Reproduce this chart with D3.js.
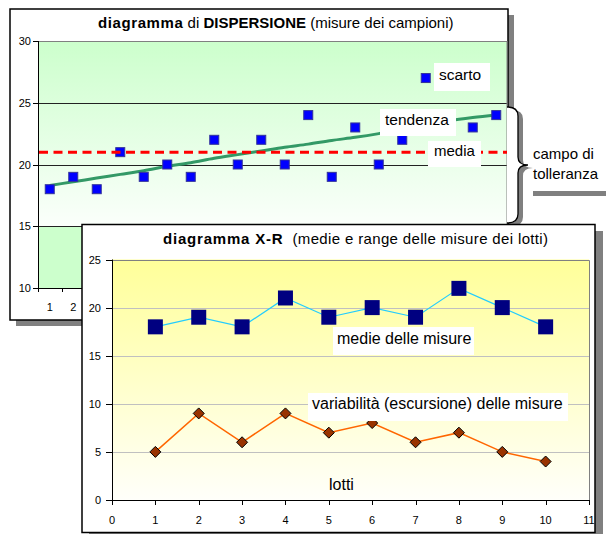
<!DOCTYPE html>
<html><head><meta charset="utf-8">
<script src="https://cdn.jsdelivr.net/npm/d3@7"></script>
<style>
html,body{margin:0;padding:0;background:#fff;}
svg{display:block;font-family:"Liberation Sans",Arial,sans-serif;}
</style></head><body>
<svg id="c" width="606" height="534"></svg>
<script>
// ---------- DATA ----------
const campioni = ["1","2","3","4","5","6","7","8","9","10","11","12","13","14","15","16","17","18","19","20"];
const misure = [18,19,18,21,19,20,19,22,20,22,20,24,19,23,20,22,27,23,23,24];
const tendenza = [18.3,18.6,18.9,19.2,19.5,19.85,20.15,20.5,20.8,21.1,21.4,21.65,21.95,22.2,22.5,22.85,23.2,23.55,23.8,24.0];
const mediaValore = 21;
const topYTicks = [10,15,20,25,30];

const lotti = [1,2,3,4,5,6,7,8,9,10];
const medie = [18,19,18,21,19,20,19,22,20,18];
const escursione = [5,9,6,9,7,8,6,7,5,4];
const bottomYTicks = [0,5,10,15,20,25];
const bottomXTicks = [0,1,2,3,4,5,6,7,8,9,10,11];

// ---------- SETUP ----------
const svg = d3.select("#c");
const defs = svg.append("defs");
const gG = defs.append("linearGradient").attr("id","gGreen").attr("x1",0).attr("y1",0).attr("x2",0).attr("y2",1);
gG.append("stop").attr("offset","0").attr("stop-color","#ccffcc");
gG.append("stop").attr("offset","1").attr("stop-color","#fbfffb");
const gY = defs.append("linearGradient").attr("id","gYellow").attr("x1",0).attr("y1",0).attr("x2",0).attr("y2",1);
gY.append("stop").attr("offset","0").attr("stop-color","#ffff99");
gY.append("stop").attr("offset","1").attr("stop-color","#fffffa");

// ---------- TOP CHART: diagramma di dispersione ----------
const xT = d3.scaleBand().domain(campioni).range([38,508]);
const yT = d3.scaleLinear().domain([10,30]).range([288,41]);
const bw = xT.bandwidth();
const cx = c => xT(c) + bw/2;
const BOTTOM_FRAME_LEFT = 82;

const topG = svg.append("g");
topG.append("rect").attr("x",16).attr("y",15).attr("width",498).attr("height",311).attr("fill","#808080");
topG.append("rect").attr("x",10).attr("y",9).attr("width",498).attr("height",311).attr("fill","#fff").attr("stroke","#000").attr("stroke-width",1.5);

topG.append("rect").attr("x",38).attr("y",yT(30)).attr("width",469).attr("height",yT(15)-yT(30)).attr("fill","url(#gGreen)");
topG.append("rect").attr("x",38).attr("y",yT(15)).attr("width",469).attr("height",yT(10)-yT(15)).attr("fill","#ccffcc");

// gridlines
topG.selectAll(".gt").data(topYTicks.filter(d=>d>10)).enter().append("line")
  .attr("x1",38).attr("x2",507).attr("y1",d=>Math.round(yT(d))+0.5).attr("y2",d=>Math.round(yT(d))+0.5)
  .attr("stroke",d=>d===30?"#808080":"#222").attr("stroke-width",1);
topG.append("line").attr("x1",507).attr("x2",507).attr("y1",yT(30)).attr("y2",yT(10)).attr("stroke","#808080");

// y axis
topG.append("line").attr("x1",38.5).attr("x2",38.5).attr("y1",yT(30)).attr("y2",yT(10)+0.5).attr("stroke","#000");
topG.selectAll(".yt").data(topYTicks).enter().append("line")
  .attr("x1",33).attr("x2",38).attr("y1",d=>Math.round(yT(d))+0.5).attr("y2",d=>Math.round(yT(d))+0.5).attr("stroke","#000");
topG.selectAll(".ytl").data(topYTicks).enter().append("text")
  .attr("x",31).attr("y",d=>yT(d)+4).attr("text-anchor","end").attr("font-size",11).text(d=>d);

// x axis (labels only where not hidden by the X-R chart)
topG.append("line").attr("x1",38).attr("x2",507).attr("y1",288.5).attr("y2",288.5).attr("stroke","#000");
topG.selectAll(".xt").data(campioni).enter().append("line")
  .attr("x1",d=>Math.round(xT(d))+0.5).attr("x2",d=>Math.round(xT(d))+0.5).attr("y1",288).attr("y2",292).attr("stroke","#000");
topG.selectAll(".xtl").data(campioni.filter(c=>cx(c)+4<BOTTOM_FRAME_LEFT)).enter().append("text")
  .attr("x",d=>cx(d)).attr("y",311).attr("text-anchor","middle").attr("font-size",11).text(d=>d);

// trend line
const lineT = d3.line().x((d,i)=>cx(campioni[i])).y(d=>yT(d)).curve(d3.curveMonotoneX);
topG.append("path").datum(tendenza).attr("d",lineT).attr("fill","none").attr("stroke","#339966").attr("stroke-width",3);

// markers
topG.selectAll(".m").data(misure).enter().append("rect")
  .attr("x",(d,i)=>cx(campioni[i])-4.5).attr("y",d=>yT(d)-4.5).attr("width",9).attr("height",9)
  .attr("fill","#0000ff").attr("stroke","#333399").attr("stroke-width",1);

// media dashed line
topG.append("line").attr("x1",39).attr("x2",507).attr("y1",yT(mediaValore)).attr("y2",yT(mediaValore))
  .attr("stroke","#ff0000").attr("stroke-width",3).attr("stroke-dasharray","9,5.5");

// title
const tt = topG.append("text").attr("x",98).attr("y",28).attr("font-size",15);
tt.append("tspan").attr("font-weight","bold").attr("letter-spacing",0.6).text("diagramma");
tt.append("tspan").text(" di ");
tt.append("tspan").attr("font-weight","bold").text("DISPERSIONE");
tt.append("tspan").text(" (misure dei campioni)");

// label boxes
function labelBox(g, x, y, w, h, tx, ty, txt, fs){
  g.append("rect").attr("x",x).attr("y",y).attr("width",w).attr("height",h).attr("fill","#fff");
  g.append("text").attr("x",tx).attr("y",ty).attr("font-size",fs).text(txt);
}
labelBox(topG, 434, 63, 56, 28, 439, 79.5, "scarto", 15.5);
labelBox(topG, 380, 109, 76, 27, 385, 124.5, "tendenza", 15.5);
labelBox(topG, 428, 141, 53, 26, 434, 155.5, "media", 15);

// brace + shadow
const braceFill = "M507,107 Q518,107 518,116 L518,157 Q518,165 528,165 Q518,165 518,173 L518,214 Q518,223 507,223 Z";
const braceLine = "M507,107 Q518,107 518,116 L518,157 Q518,165 528,165 Q518,165 518,173 L518,214 Q518,223 507,223";
svg.append("path").attr("d",braceFill).attr("transform","translate(5,3)").attr("fill","#808080");
svg.append("path").attr("d",braceFill).attr("fill","#fff");
svg.append("path").attr("d",braceLine).attr("fill","none").attr("stroke","#000").attr("stroke-width",1.3);

svg.append("text").attr("x",533).attr("y",158.5).attr("font-size",15).text("campo di");
svg.append("text").attr("x",533).attr("y",178.5).attr("font-size",15).text("tolleranza");
svg.append("rect").attr("x",533).attr("y",191).attr("width",73).attr("height",5).attr("fill","#808080");

// ---------- BOTTOM CHART: diagramma X-R ----------
const xB = d3.scaleLinear().domain([0,11]).range([112,589]);
const yB = d3.scaleLinear().domain([0,25]).range([500,259.5]);

const botG = svg.append("g");
botG.append("rect").attr("x",89).attr("y",231).attr("width",514).attr("height",310).attr("fill","#808080");
botG.append("rect").attr("x",BOTTOM_FRAME_LEFT).attr("y",224.5).attr("width",513).attr("height",308).attr("fill","#fff").attr("stroke","#000").attr("stroke-width",1.5);

botG.append("rect").attr("x",xB(0)).attr("y",yB(25)).attr("width",xB(11)-xB(0)).attr("height",yB(0)-yB(25)).attr("fill","url(#gYellow)");
botG.selectAll(".gb").data(bottomYTicks.filter(d=>d>0&&d<25)).enter().append("line")
  .attr("x1",xB(0)).attr("x2",xB(11)).attr("y1",d=>Math.round(yB(d))+0.5).attr("y2",d=>Math.round(yB(d))+0.5)
  .attr("stroke","#c0c0c0");
botG.append("path").attr("d",`M${xB(0)},${Math.round(yB(25))+0.5} H${xB(11)+0.5} V${yB(0)}`).attr("fill","none").attr("stroke","#808080");

// axes
botG.append("line").attr("x1",xB(0)+0.5).attr("x2",xB(0)+0.5).attr("y1",yB(25)).attr("y2",yB(0)).attr("stroke","#000");
botG.append("line").attr("x1",xB(0)).attr("x2",xB(11)+1).attr("y1",yB(0)+0.5).attr("y2",yB(0)+0.5).attr("stroke","#000");
botG.selectAll(".ybt").data(bottomYTicks).enter().append("line")
  .attr("x1",xB(0)-6).attr("x2",xB(0)).attr("y1",d=>Math.round(yB(d))+0.5).attr("y2",d=>Math.round(yB(d))+0.5).attr("stroke","#000");
botG.selectAll(".ybl").data(bottomYTicks).enter().append("text")
  .attr("x",101).attr("y",d=>yB(d)+4).attr("text-anchor","end").attr("font-size",11).text(d=>d);
botG.selectAll(".xbt").data(bottomXTicks).enter().append("line")
  .attr("x1",d=>Math.round(xB(d))+0.5).attr("x2",d=>Math.round(xB(d))+0.5).attr("y1",yB(0)).attr("y2",yB(0)+5).attr("stroke","#000");
botG.selectAll(".xbl").data(bottomXTicks).enter().append("text")
  .attr("x",d=>xB(d)).attr("y",524).attr("text-anchor","middle").attr("font-size",11).text(d=>d);

// medie series
const lineM = d3.line().x((d,i)=>xB(lotti[i])).y(d=>yB(d));
botG.append("path").datum(medie).attr("d",lineM).attr("fill","none").attr("stroke","#22ccff").attr("stroke-width",1.2);
botG.selectAll(".mq").data(medie).enter().append("rect")
  .attr("x",(d,i)=>xB(lotti[i])-7.5).attr("y",d=>yB(d)-7.5).attr("width",15).attr("height",15).attr("fill","#000080");

// escursione series
botG.append("path").datum(escursione).attr("d",lineM).attr("fill","none").attr("stroke","#ff6600").attr("stroke-width",1.5);
botG.selectAll(".dm").data(escursione).enter().append("path")
  .attr("transform",(d,i)=>`translate(${xB(lotti[i])},${yB(d)})`)
  .attr("d","M0,-5.5L5.5,0L0,5.5L-5.5,0Z").attr("fill","#993300").attr("stroke","#000").attr("stroke-width",1);

// title
const tb = botG.append("text").attr("x",163).attr("y",244).attr("font-size",15);
tb.append("tspan").attr("font-weight","bold").attr("letter-spacing",0.8).text("diagramma X-R");
tb.append("tspan").attr("letter-spacing",0.35).text("\u00a0 (medie e range delle misure dei lotti)");

labelBox(botG, 333, 327, 141, 28, 337, 343.5, "medie delle misure", 16);
labelBox(botG, 308, 393, 260, 28, 312, 409, "variabilità (escursione) delle misure", 16);
botG.append("text").attr("x",329).attr("y",490).attr("font-size",16).text("lotti");
</script>
</body></html>
